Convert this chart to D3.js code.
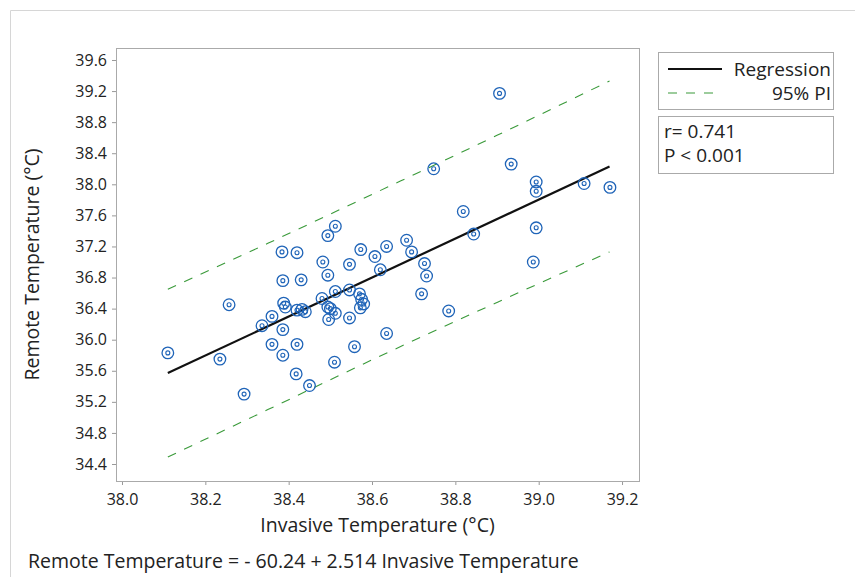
<!DOCTYPE html>
<html>
<head>
<meta charset="utf-8">
<script src="https://cdn.jsdelivr.net/npm/d3@7"></script>
<style>
  body { margin: 0; background: #fff; }
  text { font-family: "Open Sans", "Noto Sans", sans-serif; fill: #222; }
</style>
</head>
<body>
<div id="chart"></div>
<script>
// data (invasive °C, remote °C)
var invasive = [38.11, 38.235, 38.257, 38.293, 38.336, 38.36, 38.36, 38.384, 38.386, 38.388,
  38.392, 38.386, 38.386, 38.42, 38.43, 38.42, 38.432, 38.44, 38.42, 38.418,
  38.45, 38.482, 38.494, 38.494, 38.512, 38.48, 38.5, 38.496, 38.512, 38.512,
  38.51, 38.546, 38.546, 38.546, 38.558, 38.573, 38.57, 38.575, 38.58, 38.572,
  38.607, 38.62, 38.635, 38.635, 38.683, 38.695, 38.726, 38.731, 38.719, 38.748,
  38.784, 38.819, 38.844, 38.906, 38.934, 38.994, 38.994, 38.994, 38.987,
  39.109, 39.171, 38.494];
var remote = [35.83, 35.75, 36.45, 35.30, 36.18, 36.30, 35.94, 37.13, 36.76, 36.47,
  36.42, 36.13, 35.80, 37.12, 36.77, 36.38, 36.39, 36.36, 35.94, 35.56,
  35.41, 37.00, 36.83, 37.34, 37.46, 36.53, 36.40, 36.26, 36.34, 36.62,
  35.71, 36.97, 36.64, 36.28, 35.91, 37.16, 36.59, 36.52, 36.46, 36.41,
  37.07, 36.90, 37.20, 36.08, 37.28, 37.13, 36.98, 36.82, 36.59, 38.20,
  36.37, 37.65, 37.36, 39.17, 38.26, 38.03, 37.91, 37.44, 37.00,
  38.01, 37.96, 36.42];

// fitted line and prediction interval, read at a few x positions
var fitX = [38.11, 39.17];
var fitY = [35.57, 38.23];
var piX = [38.11, 38.35, 38.6, 38.9, 39.17];
var piUpper = [36.65, 37.24, 37.87, 38.63, 39.33];
var piLower = [34.49, 35.10, 35.74, 36.48, 37.13];

var xTicks = [38.0, 38.2, 38.4, 38.6, 38.8, 39.0, 39.2];
var yTicks = [34.4, 34.8, 35.2, 35.6, 36.0, 36.4, 36.8, 37.2, 37.6, 38.0, 38.4, 38.8, 39.2, 39.6];

var statsLines = ["r= 0.741", "P < 0.001"];
var equation = "Remote Temperature = - 60.24 + 2.514 Invasive Temperature";

var width = 855, height = 577;
var plot = { left: 116, right: 639, top: 48, bottom: 481 };

var svg = d3.select("#chart").append("svg")
  .attr("width", width)
  .attr("height", height);

// outer figure border (top and left only visible)
svg.append("path")
  .attr("d", "M10.5," + height + "V10.5H" + width)
  .attr("fill", "none")
  .attr("stroke", "#d6d6d6");

var x = d3.scaleLinear()
  .domain([38.0 - 6 / 417.5, 39.2 + 17 / 417.5])
  .range([plot.left, plot.right]);
var y = d3.scaleLinear()
  .domain([34.4 - 17 / 77.7, 39.6 + 12 / 77.7])
  .range([plot.bottom, plot.top]);

// axes
var xAxis = svg.append("g")
  .attr("transform", "translate(0," + plot.bottom + ")")
  .call(d3.axisBottom(x).tickValues(xTicks).tickFormat(d3.format(".1f")).tickSizeOuter(0).tickSize(4));
var yAxis = svg.append("g")
  .attr("transform", "translate(" + plot.left + ",0)")
  .call(d3.axisLeft(y).tickValues(yTicks).tickFormat(d3.format(".1f")).tickSizeOuter(0).tickSize(4));

[xAxis, yAxis].forEach(function(g) {
  g.select(".domain").remove();
  g.selectAll(".tick line").attr("stroke", "#999");
  g.selectAll(".tick text")
    .style("font-family", "'Open Sans', sans-serif")
    .style("font-size", "16px")
    .attr("fill", "#333");
});
xAxis.selectAll(".tick text").attr("dy", "1.05em");
yAxis.selectAll(".tick text").attr("x", -9);

// plot frame
svg.append("rect")
  .attr("x", plot.left + 0.5)
  .attr("y", plot.top + 0.5)
  .attr("width", plot.right - plot.left)
  .attr("height", plot.bottom - plot.top)
  .attr("fill", "none")
  .attr("stroke", "#aaa");

// prediction interval lines
var line = d3.line().x(d => x(d[0])).y(d => y(d[1])).curve(d3.curveMonotoneX);
[piUpper, piLower].forEach(function(vals) {
  svg.append("path")
    .attr("d", line(piX.map((v, i) => [v, vals[i]])))
    .attr("fill", "none")
    .attr("stroke", "#3a9a3a")
    .attr("stroke-width", 1.1)
    .attr("stroke-dasharray", "9,9");
});

// regression line
svg.append("path")
  .attr("d", line(fitX.map((v, i) => [v, fitY[i]])))
  .attr("fill", "none")
  .attr("stroke", "#111")
  .attr("stroke-width", 2.2);

// points: circle with inner dot ring
var pts = svg.append("g").selectAll("g")
  .data(invasive.map((v, i) => [v, remote[i]]))
  .enter().append("g")
  .attr("transform", d => "translate(" + x(d[0]) + "," + y(d[1]) + ")");
pts.append("circle").attr("r", 5.8)
  .attr("fill", "none").attr("stroke", "#1f64b8").attr("stroke-width", 1.3);
pts.append("circle").attr("r", 2)
  .attr("fill", "none").attr("stroke", "#1f64b8").attr("stroke-width", 1.1);

// axis titles
svg.append("text")
  .attr("x", (plot.left + plot.right) / 2)
  .attr("y", 532)
  .attr("text-anchor", "middle")
  .style("font-size", "19.5px")
  .text("Invasive Temperature (°C)");
svg.append("text")
  .attr("transform", "translate(39," + (plot.top + plot.bottom) / 2 + ") rotate(-90)")
  .attr("text-anchor", "middle")
  .style("font-size", "19.5px")
  .text("Remote Temperature (°C)");

// equation
svg.append("text")
  .attr("x", 28)
  .attr("y", 568)
  .style("font-size", "19.5px")
  .text(equation);

// legend box
var leg = svg.append("g");
leg.append("rect").attr("x", 658.5).attr("y", 52.5).attr("width", 175).attr("height", 57)
  .attr("fill", "#fff").attr("stroke", "#aaa");
leg.append("line").attr("x1", 668).attr("x2", 722).attr("y1", 69).attr("y2", 69)
  .attr("stroke", "#111").attr("stroke-width", 2);
leg.append("line").attr("x1", 668).attr("x2", 722).attr("y1", 93).attr("y2", 93)
  .attr("stroke", "#3a9a3a").attr("stroke-width", 1.1).attr("stroke-dasharray", "9,9");
leg.append("text").attr("x", 831).attr("y", 76).attr("text-anchor", "end")
  .style("font-size", "19px").text("Regression");
leg.append("text").attr("x", 831).attr("y", 100).attr("text-anchor", "end")
  .style("font-size", "19px").text("95% PI");

// stats box
var st = svg.append("g");
st.append("rect").attr("x", 658.5).attr("y", 116.5).attr("width", 175).attr("height", 57)
  .attr("fill", "#fff").attr("stroke", "#aaa");
st.selectAll("text").data(statsLines).enter().append("text")
  .attr("x", 664)
  .attr("y", (d, i) => 138 + i * 24)
  .style("font-size", "19px")
  .text(d => d);
</script>
</body>
</html>
